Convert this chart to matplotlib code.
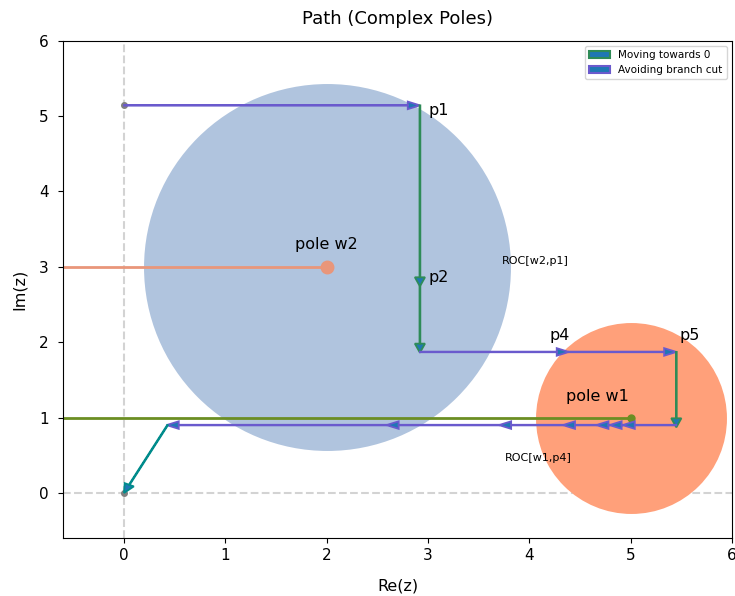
import matplotlib
matplotlib.use("Agg")
import matplotlib.pyplot as plt
from matplotlib.patches import Patch

# ---- data ----
pole_w1 = (5.0, 1.0)
pole_w2 = (2.0, 3.0)
roc_w1_size = 18900
roc_w2_size = 69800
# path waypoints (each segment drawn as an arrow)
seg1_x = [0.0, 2.92]            ; seg1_y = [5.14, 5.14]      # avoiding branch cut
seg2_x = [2.92, 2.92, 2.92]     ; seg2_y = [5.14, 2.74, 1.86] # moving towards 0
seg3_x = [2.92, 4.39, 5.45]     ; seg3_y = [1.87, 1.87, 1.87] # avoiding branch cut
seg4_x = [5.45, 5.45]           ; seg4_y = [1.87, 0.87]       # moving towards 0
seg5_x = [5.45, 4.92, 4.79, 4.66, 4.33, 3.70, 2.59, 0.42]
seg5_y = [0.90] * 8                                           # avoiding branch cut
seg6_x = [0.43, 0.0]            ; seg6_y = [0.90, 0.0]        # final
point_labels = ["p1", "p2", "p4", "p5"]
point_label_x = [3.0, 3.0, 4.3, 5.58]
point_label_y = [5.07, 2.86, 2.09, 2.09]
legend_labels = ["Moving towards 0", "Avoiding branch cut"]

GREEN = "#2E8B57"
PURPLE = "#6A5ACD"
TEAL = "#008B8B"

fig = plt.figure(figsize=(7.35, 5.96), dpi=100)
ax = fig.add_axes([0.086, 0.097, 0.910, 0.835])

ax.scatter([pole_w2[0]], [pole_w2[1]], s=roc_w2_size, color="#B0C4DE", zorder=1, linewidths=0)
ax.scatter([pole_w1[0]], [pole_w1[1]], s=roc_w1_size, color="#FFA07A", zorder=1, linewidths=0)

ax.axhline(0, color="lightgray", ls="--", lw=1.5, zorder=0)
ax.axvline(0, color="lightgray", ls="--", lw=1.5, zorder=0)

ax.plot([-0.6, pole_w2[0]], [pole_w2[1], pole_w2[1]], color="#E9967A", lw=2, zorder=2)
ax.plot([-0.6, pole_w1[0]], [pole_w1[1], pole_w1[1]], color="#6B8E23", lw=2, zorder=2)
ax.plot([pole_w2[0]], [pole_w2[1]], "o", color="#E9967A", ms=9, zorder=3)
ax.plot([pole_w1[0]], [pole_w1[1]], "o", color="#6B8E23", ms=5, zorder=3)

ax.plot([seg1_x[0], seg6_x[-1]], [seg1_y[0], seg6_y[-1]], "o", color="gray", ms=4, zorder=3)


def draw(xs, ys, color):
    for i in range(len(xs) - 1):
        ax.arrow(xs[i], ys[i], xs[i + 1] - xs[i], ys[i + 1] - ys[i],
                 length_includes_head=True, width=0.008, head_width=0.1,
                 head_length=0.12, fc="#1f77b4", ec=color, lw=1.3, zorder=4)


draw(seg1_x, seg1_y, PURPLE)
draw(seg2_x, seg2_y, GREEN)
draw(seg3_x, seg3_y, PURPLE)
draw(seg4_x, seg4_y, GREEN)
draw(seg5_x, seg5_y, PURPLE)
draw(seg6_x, seg6_y, TEAL)

for lab, tx, ty in zip(point_labels, point_label_x, point_label_y):
    ax.text(tx, ty, lab, fontsize=11.5, va="center", ha="left" if lab in ("p1", "p2") else "center", zorder=5)

ax.text(pole_w2[0], 3.29, "pole w2", fontsize=11.5, ha="center", va="center", zorder=5)
ax.text(4.67, 1.28, "pole w1", fontsize=11.5, ha="center", va="center", zorder=5)
ax.text(4.06, 3.07, "ROC[w2,p1]", fontsize=8, ha="center", va="center", zorder=5)
ax.text(4.09, 0.47, "ROC[w1,p4]", fontsize=8, ha="center", va="center", zorder=5)

handles = [Patch(facecolor="#1f77b4", edgecolor=GREEN, lw=1.5, label=legend_labels[0]),
           Patch(facecolor="#1f77b4", edgecolor=PURPLE, lw=1.5, label=legend_labels[1])]
ax.legend(handles=handles, loc="upper right", fontsize=7.5)

ax.set_xlim(-0.6, 6)
ax.set_ylim(-0.6, 6)
ax.tick_params(labelsize=11)
ax.tick_params(axis="y", pad=7)
ax.set_title("Path (Complex Poles)", fontsize=13, pad=12)
ax.set_xlabel("Re(z)", fontsize=11.5, labelpad=11)
ax.set_ylabel("Im(z)", fontsize=11.5, labelpad=9)

fig.savefig("out.png", dpi=100)
